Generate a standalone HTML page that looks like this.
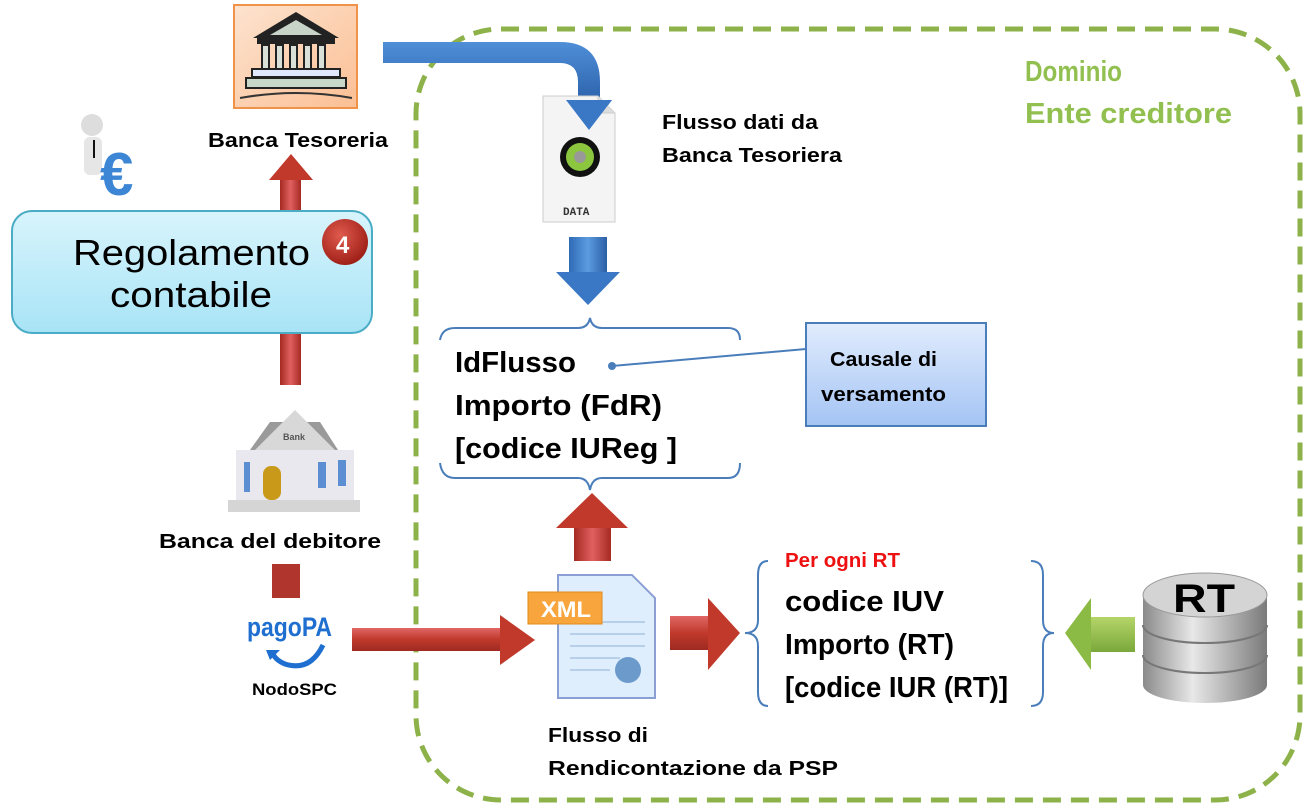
<!DOCTYPE html>
<html><head><meta charset="utf-8"><style>
html,body{margin:0;padding:0;background:#fff;width:1309px;height:809px;overflow:hidden}
svg{display:block}
text{font-family:"Liberation Sans",sans-serif;font-weight:bold}
</style></head><body>
<svg width="1309" height="809" viewBox="0 0 1309 809" xmlns="http://www.w3.org/2000/svg">
<defs>
<linearGradient id="blue" x1="0" y1="0" x2="1" y2="0"><stop offset="0" stop-color="#2f6bb5"/><stop offset=".5" stop-color="#5b9be0"/><stop offset="1" stop-color="#2a5fa5"/></linearGradient>
<linearGradient id="blueV" x1="0" y1="0" x2="0" y2="1"><stop offset="0" stop-color="#4f8fd8"/><stop offset="1" stop-color="#2d64ad"/></linearGradient>
<linearGradient id="red" x1="0" y1="0" x2="0" y2="1"><stop offset="0" stop-color="#e06666"/><stop offset=".5" stop-color="#c0392b"/><stop offset="1" stop-color="#9e2a22"/></linearGradient>
<linearGradient id="redH" x1="0" y1="0" x2="1" y2="0"><stop offset="0" stop-color="#a52a22"/><stop offset=".5" stop-color="#e06060"/><stop offset="1" stop-color="#a52a22"/></linearGradient>
<linearGradient id="cyan" x1="0" y1="0" x2="0" y2="1"><stop offset="0" stop-color="#d8f4fc"/><stop offset="1" stop-color="#a8e4f6"/></linearGradient>
<linearGradient id="cb" x1="0" y1="0" x2="0" y2="1"><stop offset="0" stop-color="#e1ecfd"/><stop offset="1" stop-color="#a4c4f4"/></linearGradient>
<linearGradient id="peach" x1="0" y1="0" x2="1" y2="1"><stop offset="0" stop-color="#fde3cf"/><stop offset="1" stop-color="#fbbf94"/></linearGradient>
<linearGradient id="grey" x1="0" y1="0" x2="1" y2="0"><stop offset="0" stop-color="#8a8a8a"/><stop offset=".4" stop-color="#e8e8e8"/><stop offset="1" stop-color="#7a7a7a"/></linearGradient>
<linearGradient id="green" x1="0" y1="0" x2="0" y2="1"><stop offset="0" stop-color="#b5d56a"/><stop offset="1" stop-color="#7aa83a"/></linearGradient>
<radialGradient id="badge" cx=".4" cy=".35" r=".7"><stop offset="0" stop-color="#e05a4e"/><stop offset="1" stop-color="#9b1c14"/></radialGradient>
</defs>

<rect x="416" y="29" width="884" height="771" rx="85" fill="none" stroke="#8db24a" stroke-width="5" stroke-dasharray="18,10"/>
<text x="1025" y="81" font-size="29" fill="#92c050" textLength="97" lengthAdjust="spacingAndGlyphs">Dominio</text>
<text x="1025" y="123" font-size="29" fill="#92c050" textLength="207" lengthAdjust="spacingAndGlyphs">Ente creditore</text>

<rect x="234" y="5" width="123" height="103" fill="url(#peach)" stroke="#f0934a" stroke-width="2"/>
<polygon points="296,12 253,38 339,38" fill="#222"/><polygon points="296,20 270,35 322,35" fill="#c9d4c9"/>
<rect x="257" y="38" width="78" height="6" fill="#222"/>
<g fill="#d8e0d8" stroke="#222" stroke-width="2"><rect x="262" y="45" width="7" height="24"/><rect x="276" y="45" width="7" height="24"/><rect x="290" y="45" width="7" height="24"/><rect x="304" y="45" width="7" height="24"/><rect x="318" y="45" width="7" height="24"/></g>
<rect x="252" y="69" width="88" height="8" fill="#e0e8ff" stroke="#222" stroke-width="2"/>
<rect x="246" y="78" width="100" height="10" fill="#c8d8c8" stroke="#222" stroke-width="2"/>
<path d="M240 98 Q296 88 352 98" stroke="#333" fill="none" stroke-width="2"/>
<text x="208" y="147" font-size="20" textLength="180" lengthAdjust="spacingAndGlyphs">Banca Tesoreria</text>

<circle cx="92" cy="125" r="11" fill="#ddd"/>
<rect x="84" y="137" width="18" height="38" rx="6" fill="#e6e6e6"/>
<line x1="94" y1="140" x2="94" y2="158" stroke="#111" stroke-width="2"/>
<text x="100" y="195" font-size="60" fill="#3d86d6">€</text>

<rect x="280" y="180" width="21" height="205" fill="url(#redH)"/>
<polygon points="269,180 291,154 313,180" fill="#c0392b"/>

<rect x="12" y="211" width="360" height="122" rx="20" fill="url(#cyan)" stroke="#4bacc6" stroke-width="2"/>
<text x="73" y="265" font-size="36" textLength="237" lengthAdjust="spacingAndGlyphs" style="font-weight:normal">Regolamento</text>
<text x="110" y="307" font-size="36" textLength="162" lengthAdjust="spacingAndGlyphs" style="font-weight:normal">contabile</text>
<circle cx="345" cy="242" r="23" fill="url(#badge)"/>
<text x="336" y="253" font-size="24" fill="#fff">4</text>

<polygon points="270,422 250,450 338,450 320,422" fill="#9a9a9a"/>
<polygon points="255,450 295,410 335,450" fill="#d8d8d8"/>
<text x="283" y="440" font-size="9" fill="#555">Bank</text>
<rect x="236" y="450" width="118" height="50" fill="#e8e8ee"/>
<rect x="263" y="466" width="18" height="34" rx="8" fill="#c99a1a"/>
<g fill="#5b8fd1"><rect x="244" y="462" width="6" height="30"/><rect x="318" y="462" width="8" height="26"/><rect x="338" y="460" width="8" height="26"/></g>
<rect x="228" y="500" width="132" height="12" fill="#d5d5d5"/>
<text x="159" y="548" font-size="20" textLength="222" lengthAdjust="spacingAndGlyphs">Banca  del debitore</text>
<rect x="272" y="564" width="28" height="34" fill="#b0352c"/>

<text x="247" y="636" font-size="27" fill="#1e6fd0" textLength="85" lengthAdjust="spacingAndGlyphs">pagoPA</text>
<path d="M323 645 Q310 672 285 664 Q275 660 272 652" fill="none" stroke="#1e6fd0" stroke-width="5"/>
<polygon points="266,650 280,650 270,660" fill="#1e6fd0"/>
<text x="252" y="695" font-size="17" textLength="85" lengthAdjust="spacingAndGlyphs">NodoSPC</text>

<rect x="352" y="628" width="152" height="23" fill="url(#red)"/>
<polygon points="500,615 535,640 500,665" fill="#c0392b"/>

<path d="M383 42 L560 42 Q600 42 600 82 L600 100 L578 100 L578 82 Q578 63 560 63 L383 63 Z" fill="url(#blueV)"/>
<polygon points="566,100 612,100 589,130" fill="#3a78c6"/>

<path d="M543 96 L598 96 L615 113 L615 222 L543 222 Z" fill="#f4f4f4" stroke="#ccc"/>
<path d="M598 96 L598 113 L615 113" fill="#ddd" stroke="#ccc"/>
<polygon points="566,100 612,100 589,130" fill="#3a78c6"/>
<circle cx="580" cy="157" r="20" fill="#111"/>
<circle cx="580" cy="157" r="14" fill="#8cc63f"/>
<circle cx="580" cy="157" r="6" fill="#999"/>
<text x="563" y="215" font-size="11" fill="#333" style="font-family:'Liberation Mono',monospace">DATA</text>
<text x="662" y="129" font-size="20" textLength="156" lengthAdjust="spacingAndGlyphs">Flusso dati da</text>
<text x="662" y="162" font-size="20" textLength="180" lengthAdjust="spacingAndGlyphs">Banca Tesoriera</text>

<rect x="569" y="237" width="38" height="36" fill="url(#blue)"/>
<polygon points="556,272 620,272 588,305" fill="#3a78c6"/>

<path d="M440 340 Q442 328 455 328 L578 328 Q588 328 590 318 Q592 328 602 328 L728 328 Q740 328 740 340" fill="none" stroke="#4a7ebb" stroke-width="2"/>
<text x="455" y="372" font-size="29" textLength="121" lengthAdjust="spacingAndGlyphs">IdFlusso</text>
<text x="455" y="415" font-size="29" textLength="207" lengthAdjust="spacingAndGlyphs">Importo (FdR)</text>
<text x="455" y="458" font-size="29" textLength="222" lengthAdjust="spacingAndGlyphs">[codice IUReg ]</text>
<path d="M440 463 Q442 478 455 478 L578 478 Q588 478 590 490 Q592 478 602 478 L728 478 Q740 478 740 463" fill="none" stroke="#4a7ebb" stroke-width="2"/>

<line x1="612" y1="366" x2="806" y2="349" stroke="#4a7ebb" stroke-width="2"/>
<circle cx="612" cy="366" r="4" fill="#4a7ebb"/>
<rect x="806" y="323" width="180" height="103" fill="url(#cb)" stroke="#4a7ebb" stroke-width="2"/>
<text x="830" y="366" font-size="20" textLength="107" lengthAdjust="spacingAndGlyphs">Causale di</text>
<text x="821" y="401" font-size="20" textLength="125" lengthAdjust="spacingAndGlyphs">versamento</text>

<rect x="574" y="527" width="37" height="34" fill="url(#redH)"/>
<polygon points="556,528 592,493 628,528" fill="#c0392b"/>

<path d="M558 575 L632 575 L655 598 L655 698 L558 698 Z" fill="#dfeefc" stroke="#8c9fd4" stroke-width="2"/>
<g stroke="#b7cfe8" stroke-width="2"><line x1="570" y1="622" x2="645" y2="622"/><line x1="570" y1="634" x2="645" y2="634"/><line x1="570" y1="646" x2="645" y2="646"/><line x1="570" y1="658" x2="620" y2="658"/><line x1="570" y1="670" x2="610" y2="670"/></g>
<circle cx="628" cy="670" r="13" fill="#6c9acb"/>
<rect x="528" y="592" width="74" height="32" fill="#f7a53c" stroke="#e38a1a"/>
<text x="541" y="617" font-size="22" fill="#fff" textLength="50" lengthAdjust="spacingAndGlyphs">XML</text>
<text x="548" y="742" font-size="20" textLength="100" lengthAdjust="spacingAndGlyphs">Flusso di</text>
<text x="548" y="775" font-size="20" textLength="290" lengthAdjust="spacingAndGlyphs">Rendicontazione da PSP</text>

<rect x="670" y="616" width="40" height="34" fill="url(#red)"/>
<polygon points="708,598 740,633 708,670" fill="#c0392b"/>

<path d="M768 561 Q758 561 758 575 L758 620 Q758 633 745 633 Q758 633 758 646 L758 692 Q758 706 768 706" fill="none" stroke="#4a7ebb" stroke-width="2"/>
<text x="785" y="567" font-size="20" fill="#ee1111" textLength="115" lengthAdjust="spacingAndGlyphs">Per ogni RT</text>
<text x="785" y="611" font-size="29" textLength="159" lengthAdjust="spacingAndGlyphs">codice IUV</text>
<text x="785" y="654" font-size="29" textLength="169" lengthAdjust="spacingAndGlyphs">Importo (RT)</text>
<text x="785" y="697" font-size="29" textLength="223" lengthAdjust="spacingAndGlyphs">[codice IUR (RT)]</text>
<path d="M1031 561 Q1043 561 1043 575 L1043 620 Q1043 633 1054 633 Q1043 633 1043 646 L1043 692 Q1043 706 1031 706" fill="none" stroke="#4a7ebb" stroke-width="2"/>

<rect x="1090" y="617" width="45" height="35" fill="url(#green)"/>
<polygon points="1091,598 1065,633 1091,670" fill="#8cbb45"/>

<path d="M1143 595 L1143 685 A62 18 0 0 0 1267 685 L1267 595 Z" fill="url(#grey)"/>
<ellipse cx="1205" cy="595" rx="62" ry="22" fill="#d4d4d4" stroke="#999"/>
<path d="M1143 625 A62 18 0 0 0 1267 625" fill="none" stroke="#777" stroke-width="2"/>
<path d="M1143 655 A62 18 0 0 0 1267 655" fill="none" stroke="#777" stroke-width="2"/>
<text x="1173" y="612" font-size="40" textLength="62" lengthAdjust="spacingAndGlyphs">RT</text>
</svg>
</body></html>
